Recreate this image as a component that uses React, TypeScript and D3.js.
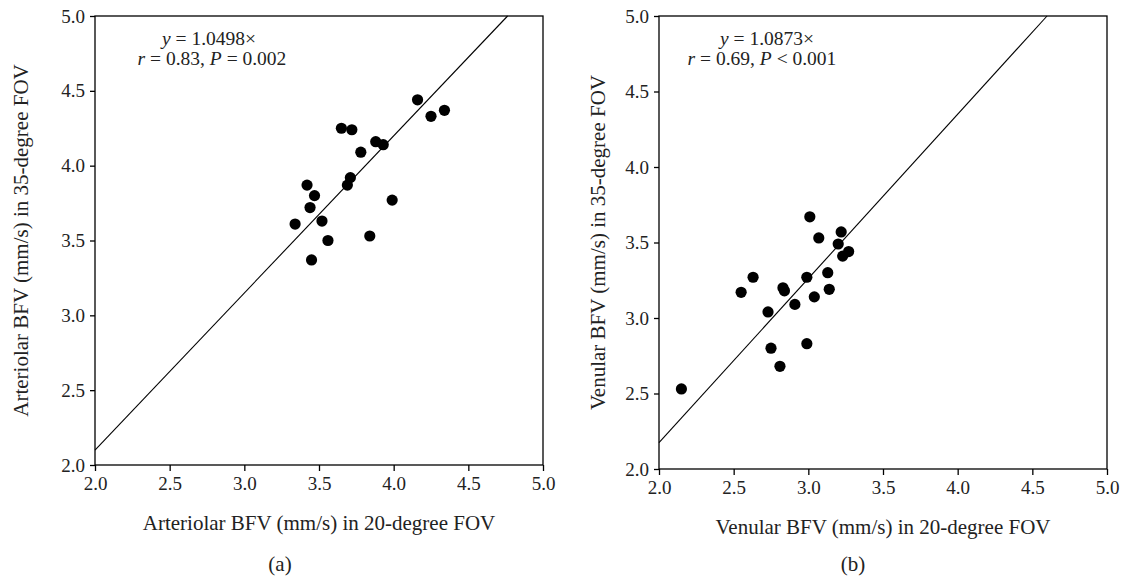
import React, { useEffect, useRef } from "react";
import * as d3 from "d3";

// axis ticks shared by both panels
const tickValues = [2.0, 2.5, 3.0, 3.5, 4.0, 4.5, 5.0];

// (a) arteriolar BFV, 20-degree vs 35-degree FOV
const arteriolar20 = [4.16, 4.25, 4.34, 3.65, 3.72, 3.88, 3.93, 3.78, 3.71, 3.69, 3.42, 3.47, 3.44, 3.34, 3.52, 3.56, 3.45, 3.84, 3.99];
const arteriolar35 = [4.44, 4.33, 4.37, 4.25, 4.24, 4.16, 4.14, 4.09, 3.92, 3.87, 3.87, 3.80, 3.72, 3.61, 3.63, 3.50, 3.37, 3.53, 3.77];
const arteriolarSlope = 1.0498;

// (b) venular BFV
const venular20 = [3.01, 3.07, 3.22, 3.20, 3.23, 3.27, 2.99, 3.13, 3.14, 3.04, 2.91, 2.83, 2.84, 2.63, 2.55, 2.73, 2.75, 2.99, 2.81, 2.15];
const venular35 = [3.67, 3.53, 3.57, 3.49, 3.41, 3.44, 3.27, 3.30, 3.19, 3.14, 3.09, 3.20, 3.18, 3.27, 3.17, 3.04, 2.80, 2.83, 2.68, 2.53];
const venularSlope = 1.0873;

const FONT = "'Liberation Serif', 'Times New Roman', serif";

type Panel = {
  xs: number[];
  ys: number[];
  slope: number;
  left: number;
  top: number;
  width: number;
  height: number;
  xTitle: string;
  yTitle: string;
  yTitleX: number;
  eq: string;
  eqX: number;
  stats: [string, string, string, string];
  statsX: number;
  tag: string;
  tagX: number;
};

function drawPanel(svg: d3.Selection<SVGSVGElement, unknown, null, undefined>, p: Panel) {
  const x = d3.scaleLinear().domain([2, 5]).range([p.left, p.left + p.width]);
  const y = d3.scaleLinear().domain([2, 5]).range([p.top + p.height, p.top]);
  const g = svg.append("g");

  // frame
  g.append("rect")
    .attr("x", p.left).attr("y", p.top)
    .attr("width", p.width).attr("height", p.height)
    .attr("fill", "none").attr("stroke", "#000").attr("stroke-width", 1.3);

  const xAxis = g.append("g")
    .attr("transform", "translate(0," + (p.top + p.height) + ")")
    .call(d3.axisBottom(x).tickValues(tickValues).tickSize(6).tickPadding(6).tickFormat(d3.format(".1f")));
  const yAxis = g.append("g")
    .attr("transform", "translate(" + p.left + ",0)")
    .call(d3.axisLeft(y).tickValues(tickValues).tickSize(5).tickPadding(5).tickFormat(d3.format(".1f")));
  [xAxis, yAxis].forEach((a) => {
    a.select(".domain").remove();
    a.selectAll("line").attr("stroke", "#000").attr("stroke-width", 1.3);
    a.selectAll("text").attr("fill", "#222").style("font-family", FONT).style("font-size", "19px");
  });

  // regression line through origin, clipped to the frame
  const x1 = Math.min(5, 5 / p.slope);
  g.append("line")
    .attr("x1", x(2)).attr("y1", y(2 * p.slope))
    .attr("x2", x(x1)).attr("y2", y(x1 * p.slope))
    .attr("stroke", "#000").attr("stroke-width", 1.1);

  g.selectAll("circle.pt")
    .data(p.xs.map((v, i) => [v, p.ys[i]]))
    .enter().append("circle")
    .attr("class", "pt")
    .attr("cx", (d) => x(d[0]))
    .attr("cy", (d) => y(d[1]))
    .attr("r", 5.6)
    .attr("fill", "#000");

  const txt = (sel: d3.Selection<SVGTextElement, unknown, null, undefined>) =>
    sel.attr("fill", "#222").style("font-family", FONT).style("font-size", "19.5px");

  // equation
  const eq = g.append("text").attr("x", p.eqX).attr("y", p.top + 29).attr("text-anchor", "middle").call(txt);
  eq.append("tspan").attr("font-style", "italic").text("y");
  eq.append("tspan").text(p.eq);

  const st = g.append("text").attr("x", p.statsX).attr("y", p.top + 49).attr("text-anchor", "middle").call(txt);
  st.append("tspan").attr("font-style", "italic").text(p.stats[0]);
  st.append("tspan").text(p.stats[1]);
  st.append("tspan").attr("font-style", "italic").text(p.stats[2]);
  st.append("tspan").text(p.stats[3]);

  // axis titles
  g.append("text")
    .attr("x", p.left + p.width / 2).attr("y", p.top + p.height + 65)
    .attr("text-anchor", "middle").call(txt).style("font-size", "21px")
    .text(p.xTitle);
  g.append("text")
    .attr("transform", "translate(" + p.yTitleX + "," + (p.top + p.height / 2) + ") rotate(-90)")
    .attr("text-anchor", "middle").call(txt).style("font-size", "21px")
    .text(p.yTitle);

  g.append("text")
    .attr("x", p.tagX).attr("y", 571)
    .attr("text-anchor", "middle").call(txt).style("font-size", "21px")
    .text(p.tag);
}

export default function App() {
  const ref = useRef<SVGSVGElement>(null);

  useEffect(() => {
    const svg = d3.select(ref.current as SVGSVGElement);
    svg.selectAll("*").remove();

    drawPanel(svg, {
      xs: arteriolar20, ys: arteriolar35, slope: arteriolarSlope,
      left: 95, top: 16, width: 448, height: 449,
      xTitle: "Arteriolar BFV (mm/s) in 20-degree FOV",
      yTitle: "Arteriolar BFV (mm/s) in 35-degree FOV",
      yTitleX: 28,
      eq: " = 1.0498×", eqX: 209,
      stats: ["r", " = 0.83, ", "P", " = 0.002"], statsX: 212,
      tag: "(a)", tagX: 280,
    });
    drawPanel(svg, {
      xs: venular20, ys: venular35, slope: venularSlope,
      left: 659, top: 16, width: 448, height: 453,
      xTitle: "Venular BFV (mm/s) in 20-degree FOV",
      yTitle: "Venular BFV (mm/s) in 35-degree FOV",
      yTitleX: 605,
      eq: " = 1.0873×", eqX: 767,
      stats: ["r", " = 0.69, ", "P", " < 0.001"], statsX: 762,
      tag: "(b)", tagX: 853,
    });
  }, []);

  return (
    <svg
      ref={ref}
      width={1121}
      height={578}
      style={{ position: "absolute", left: 0, top: 0, background: "#fff" }}
    />
  );
}
